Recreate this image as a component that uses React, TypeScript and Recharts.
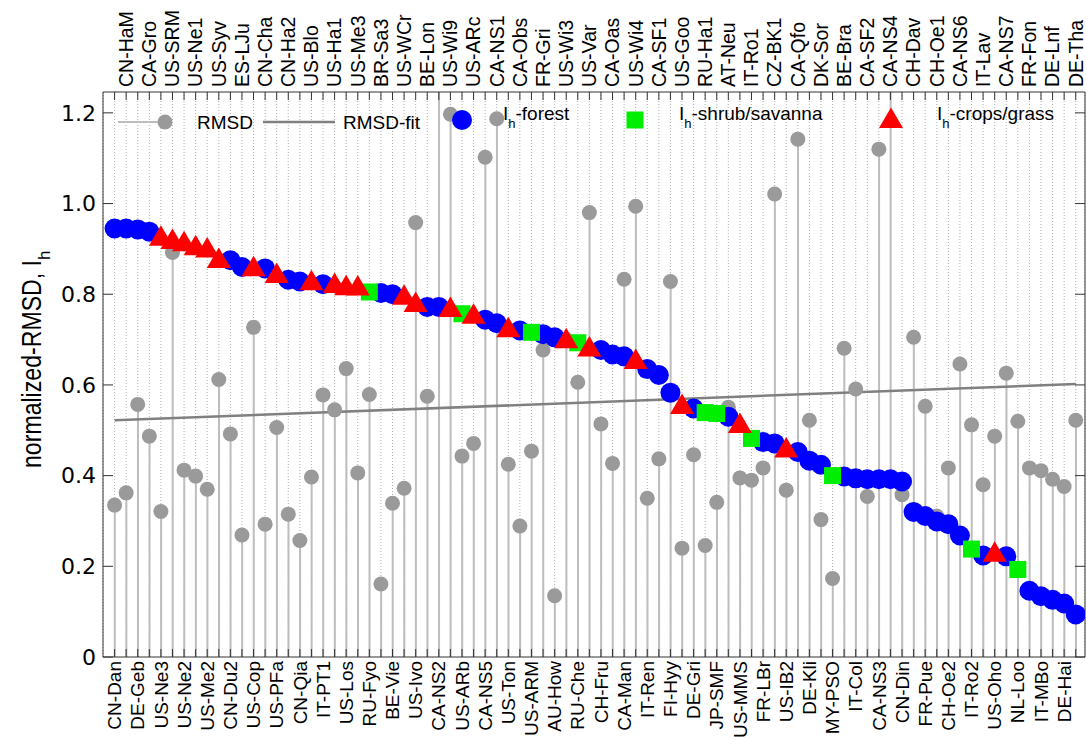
import {
  ComposedChart,
  Bar,
  Scatter,
  XAxis,
  YAxis,
  CartesianGrid,
  ReferenceLine,
} from 'recharts';

const sites = [
  'CN-Dan', 'CN-HaM', 'DE-Geb', 'CA-Gro', 'US-Ne3', 'US-SRM', 'US-Ne2', 'US-Ne1', 'US-Me2', 'US-Syv',
  'CN-Du2', 'ES-LJu', 'US-Cop', 'CN-Cha', 'US-PFa', 'CN-Ha2', 'CN-Qia', 'US-Blo', 'IT-PT1', 'US-Ha1',
  'US-Los', 'US-Me3', 'RU-Fyo', 'BR-Sa3', 'BE-Vie', 'US-WCr', 'US-Ivo', 'BE-Lon', 'CA-NS2', 'US-Wi9',
  'US-ARb', 'US-ARc', 'CA-NS5', 'CA-NS1', 'US-Ton', 'CA-Obs', 'US-ARM', 'FR-Gri', 'AU-How', 'US-Wi3',
  'RU-Che', 'US-Var', 'CH-Fru', 'CA-Oas', 'CA-Man', 'US-Wi4', 'IT-Ren', 'CA-SF1', 'FI-Hyy', 'US-Goo',
  'DE-Gri', 'RU-Ha1', 'JP-SMF', 'AT-Neu', 'US-MMS', 'IT-Ro1', 'FR-LBr', 'CZ-BK1', 'US-IB2', 'CA-Qfo',
  'DE-Kli', 'DK-Sor', 'MY-PSO', 'BE-Bra', 'IT-Col', 'CA-SF2', 'CA-NS3', 'CA-NS4', 'CN-Din', 'CH-Dav',
  'FR-Pue', 'CH-Oe1', 'CH-Oe2', 'CA-NS6', 'IT-Ro2', 'IT-Lav', 'US-Oho', 'CA-NS7', 'NL-Loo', 'FR-Fon',
  'IT-MBo', 'DE-Lnf', 'DE-Hai', 'DE-Tha',
];

// normalized RMSD per site (two sites run off the top of the axis)
const rmsd = [
  0.335, 0.362, 0.557, 0.487, 0.321, 0.892, 0.412, 0.399, 0.37, 0.612,
  0.492, 0.269, 0.727, 0.293, 0.506, 0.315, 0.257, 0.397, 0.578, 0.545,
  0.636, 0.406, 0.579, 0.161, 0.339, 0.372, 0.958, 0.575, 1.3, 1.197,
  0.443, 0.471, 1.102, 1.187, 0.425, 0.289, 0.454, 0.677, 0.135, 0.7,
  0.606, 0.98, 0.514, 0.427, 0.833, 0.994, 0.35, 0.437, 0.828, 0.24,
  0.446, 0.246, 0.341, 0.551, 0.395, 0.39, 0.417, 1.021, 0.368, 1.142,
  0.522, 0.303, 0.173, 0.681, 0.591, 0.354, 1.12, 1.3, 0.358, 0.705,
  0.553, 0.311, 0.417, 0.646, 0.512, 0.38, 0.487, 0.626, 0.52, 0.417,
  0.411, 0.392, 0.376, 0.522,
];

const ih = [
  0.945, 0.945, 0.943, 0.938, 0.929, 0.922, 0.917, 0.908, 0.903, 0.88,
  0.875, 0.86, 0.862, 0.857, 0.847, 0.832, 0.828, 0.831, 0.822, 0.825,
  0.82, 0.819, 0.805, 0.803, 0.8, 0.799, 0.783, 0.772, 0.772, 0.772,
  0.757, 0.757, 0.744, 0.736, 0.727, 0.72, 0.716, 0.712, 0.705, 0.703,
  0.693, 0.685, 0.677, 0.667, 0.663, 0.657, 0.635, 0.622, 0.583, 0.558,
  0.548, 0.539, 0.537, 0.53, 0.516, 0.482, 0.474, 0.471, 0.462, 0.452,
  0.433, 0.424, 0.4, 0.398, 0.394, 0.392, 0.392, 0.392, 0.387, 0.32,
  0.311, 0.299, 0.293, 0.268, 0.238, 0.224, 0.232, 0.222, 0.193, 0.146,
  0.134, 0.126, 0.118, 0.094,
];

// F = forest, S = shrub/savanna, C = crops/grass
const vegType = [
  'F', 'F', 'F', 'F', 'C', 'C', 'C', 'C', 'C', 'C',
  'F', 'F', 'C', 'F', 'C', 'F', 'F', 'C', 'F', 'C',
  'C', 'C', 'S', 'F', 'F', 'C', 'C', 'F', 'F', 'C',
  'S', 'C', 'F', 'F', 'C', 'F', 'S', 'F', 'F', 'C',
  'S', 'C', 'F', 'F', 'F', 'C', 'F', 'F', 'F', 'C',
  'F', 'S', 'S', 'F', 'C', 'S', 'F', 'F', 'C', 'F',
  'F', 'F', 'S', 'F', 'F', 'F', 'F', 'F', 'F', 'F',
  'F', 'F', 'F', 'F', 'S', 'F', 'C', 'F', 'S', 'F',
  'F', 'F', 'F', 'F',
];

const yTicks = [0, 0.2, 0.4, 0.6, 0.8, 1.0, 1.2];
const fitStart = 0.522;
const fitEnd = 0.602;

const rows = sites.map((name, i) => ({ x: i + 1, name, rmsd: rmsd[i] }));
const xTicks = rows.map((r) => r.x);
const rmsdPts = rows.map((r) => ({ x: r.x, y: r.rmsd }));
const ihPts = (t: string) =>
  sites.map((_, i) => ({ x: i + 1, y: ih[i], t: vegType[i] })).filter((p) => p.t === t);

const FONT = '"Liberation Sans", Arial, Helvetica, sans-serif';
const WIDE = '"DejaVu Sans", "Liberation Sans", sans-serif';
const STEM = '#bdbdbd';
const DOT = '#9a9a9a';
const FIT = '#808080';

const BottomTick = (props: any) => {
  const { x, y, payload } = props;
  const i = payload.value - 1;
  if (i % 2 !== 0) return <g />;
  return (
    <text x={x} y={y} dy="0.35em" transform={`rotate(-90 ${x} ${y})`} textAnchor="end"
      fontSize={19} fontFamily={FONT} fill="#000">
      {sites[i]}
    </text>
  );
};

const TopTick = (props: any) => {
  const { x, y, payload } = props;
  const i = payload.value - 1;
  if (i % 2 !== 1) return <g />;
  return (
    <text x={x} y={y} dy="0.35em" transform={`rotate(-90 ${x} ${y})`} textAnchor="start"
      fontSize={19.5} fontFamily={FONT} fill="#000">
      {sites[i]}
    </text>
  );
};

const grayDot = (p: any) => <circle cx={p.cx} cy={p.cy} r={7.5} fill={DOT} />;
const blueDot = (p: any) => <circle cx={p.cx} cy={p.cy} r={10} fill="#0000ff" />;
const greenSquare = (p: any) => (
  <rect x={p.cx - 8.5} y={p.cy - 8.5} width={17} height={17} fill="#00ee00" />
);
const redTriangle = (p: any) => (
  <polygon
    points={`${p.cx},${p.cy - 10.5} ${p.cx - 12},${p.cy + 10} ${p.cx + 12},${p.cy + 10}`}
    fill="#ff0000"
  />
);

function Overlay() {
  const ihText = (x: number, rest: string) => (
    <text x={x} y={120} fontSize={19} fontFamily={FONT} fill="#000">
      I<tspan dy={8} fontSize={13}>h</tspan>
      <tspan dy={-8}>{rest}</tspan>
    </text>
  );
  return (
    <svg width={1086} height={740} style={{ position: 'absolute', left: 0, top: 0, pointerEvents: 'none' }}>
      <line x1={118} y1={122} x2={165} y2={122} stroke={STEM} strokeWidth={2} />
      <circle cx={165} cy={122} r={7.5} fill={DOT} />
      <text x={197} y={129} fontSize={19} fontFamily={FONT}>RMSD</text>
      <line x1={263} y1={122} x2={335} y2={122} stroke={FIT} strokeWidth={2.5} />
      <text x={343} y={129} fontSize={19} fontFamily={FONT}>RMSD-fit</text>
      <circle cx={462} cy={120} r={10} fill="#0000ff" />
      {ihText(503, '-forest')}
      <rect x={626.5} y={111.5} width={17} height={17} fill="#00ee00" />
      {ihText(679, '-shrub/savanna')}
      <polygon points="891,107.5 879,128 903,128" fill="#ff0000" />
      {ihText(937, '-crops/grass')}
      <text x={41} y={468} transform="rotate(-90 41 468)" fontSize={27} fontFamily={FONT}>
        <tspan textLength={208} lengthAdjust="spacingAndGlyphs">normalized-RMSD,  I</tspan>
        <tspan dy={9} fontSize={17}>h</tspan>
      </text>
    </svg>
  );
}

export default function App() {
  return (
    <div style={{ position: 'absolute', left: 0, top: 0, width: 1086, height: 740, background: '#fff' }}>
      <ComposedChart width={1086} height={740} data={rows} margin={{ top: 0, right: 0, bottom: 0, left: 0 }}>
        <CartesianGrid xAxisId="bottom" yAxisId="left" horizontal={false}
          stroke="#b0b0b0" strokeDasharray="1 2" />
        <XAxis xAxisId="bottom" dataKey="x" type="number" domain={[0, 84.8]} ticks={xTicks}
          interval={0} height={83} orientation="bottom" tickSize={-8} tickMargin={12}
          tick={<BottomTick />} stroke="#333" allowDataOverflow />
        <XAxis xAxisId="top" dataKey="x" type="number" domain={[0, 84.8]} ticks={xTicks}
          interval={0} height={92} orientation="top" tickSize={-8} tickMargin={13}
          tick={<TopTick />} stroke="#333" allowDataOverflow />
        <YAxis yAxisId="left" dataKey="y" type="number" domain={[0, 1.246]} ticks={yTicks}
          width={103} tickSize={-10} tickMargin={17} stroke="#333" allowDataOverflow
          tickFormatter={(v: number) => (v === 0 ? '0' : v.toFixed(1))}
          tick={{ fontSize: 22, fontFamily: WIDE, fill: '#000' }} />
        <YAxis yAxisId="right" orientation="right" type="number" domain={[0, 1.246]} ticks={yTicks}
          width={1} tickSize={-10} stroke="#333" tick={() => <g />} allowDataOverflow />
        <Bar xAxisId="bottom" yAxisId="left" dataKey="rmsd" barSize={2} fill={STEM}
          isAnimationActive={false} />
        <Scatter xAxisId="bottom" yAxisId="left" data={rmsdPts} shape={grayDot}
          isAnimationActive={false} />
        <ReferenceLine xAxisId="bottom" yAxisId="left"
          segment={[{ x: 1, y: fitStart }, { x: 84, y: fitEnd }]} stroke={FIT} strokeWidth={2.5} />
        <Scatter xAxisId="bottom" yAxisId="left" data={ihPts('F')} shape={blueDot}
          isAnimationActive={false} />
        <Scatter xAxisId="bottom" yAxisId="left" data={ihPts('S')} shape={greenSquare}
          isAnimationActive={false} />
        <Scatter xAxisId="bottom" yAxisId="left" data={ihPts('C')} shape={redTriangle}
          isAnimationActive={false} />
      </ComposedChart>
      <Overlay />
    </div>
  );
}
